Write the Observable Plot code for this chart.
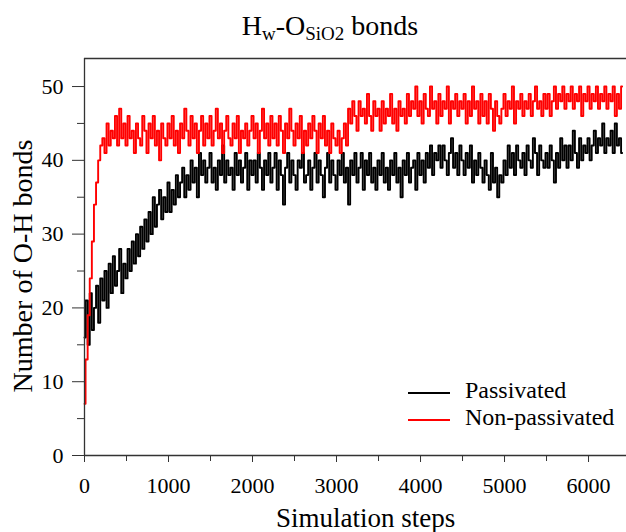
<!DOCTYPE html>
<html>
<head>
<meta charset="utf-8">
<script src="https://cdn.jsdelivr.net/npm/d3@7"></script>
<script src="https://cdn.jsdelivr.net/npm/@observablehq/plot@0.6"></script>
<style>
  html, body { margin: 0; padding: 0; background: #fff; }
  #wrap { position: relative; width: 626px; height: 532px; font-family: "Liberation Serif", "Times New Roman", serif; color: #000; }
  #title { position: absolute; left: 0; width: 660px; top: 12px; text-align: center; font-size: 28px; line-height: 1; }
  #title sub { font-size: 19px; vertical-align: -5px; line-height: 0; }
  .leg { position: absolute; left: 408px; width: 610px; font-size: 24px; line-height: 1; }
  .leg span.sw { position: absolute; left: 0; width: 42px; height: 0; }
  .leg span.tx { position: absolute; left: 57px; white-space: nowrap; }
</style>
</head>
<body>
<div id="wrap">
  <div id="title">H<sub>w</sub>-O<sub>SiO2</sub> bonds</div>
</div>
<script>
// ---- data ----
const stepInterval = 25; // one sample every 25 simulation steps, 0..6400
const seriesNames = ["Passivated", "Non-passivated"];
const seriesColors = ["black", "red"];
const passivatedValues = [
  16, 21, 15, 22, 17, 20, 23, 18, 24, 21,
  25, 20, 26, 22, 27, 23, 25, 28, 22, 26,
  24, 28, 25, 29, 26, 30, 27, 31, 28, 32,
  29, 33, 30, 35, 31, 34, 36, 32, 35, 33,
  37, 33, 36, 34, 38, 35, 37, 39, 35, 38,
  36, 40, 37, 39, 35, 41, 38, 40, 37, 39,
  41, 37, 39, 36, 40, 38, 42, 37, 40, 38,
  39, 36, 41, 38, 40, 37, 39, 41, 36, 40,
  38, 40, 37, 41, 39, 36, 40, 38, 41, 37,
  39, 41, 36, 40, 38, 34, 39, 41, 37, 40,
  38, 36, 40, 39, 41, 37, 38, 40, 36, 39,
  41, 37, 40, 38, 35, 39, 41, 37, 40, 38,
  36, 40, 38, 41, 37, 39, 34, 40, 38, 41,
  37, 39, 41, 36, 40, 38, 41, 37, 39, 36,
  40, 38, 41, 37, 39, 36, 40, 38, 41, 37,
  39, 35, 40, 38, 41, 37, 39, 40, 36, 41,
  38, 40, 37, 41, 39, 42, 38, 41, 40, 42,
  39, 42, 40, 38, 41, 43, 39, 41, 38, 42,
  40, 38, 41, 39, 42, 37, 40, 38, 41, 39,
  37, 40, 38, 36, 41, 37, 39, 35, 38, 37,
  40, 38, 42, 39, 41, 38, 42, 40, 39, 41,
  38, 42, 40, 39, 43, 41, 38, 42, 40, 39,
  41, 39, 42, 40, 37, 41, 39, 43, 40, 42,
  39, 42, 40, 44, 41, 39, 43, 40, 42, 41,
  43, 40, 42, 44, 41, 43, 42, 45, 41, 43,
  42, 44, 41, 45, 42, 43, 41
];
const nonPassivatedValues = [
  7, 13, 19, 24, 29, 34, 37, 40, 42, 43,
  41, 45, 42, 44, 43, 46, 42, 47, 43, 45,
  42, 46, 43, 44, 41, 45, 43, 42, 46, 44,
  41, 45, 43, 46, 42, 44, 40, 45, 43, 42,
  45, 43, 46, 42, 44, 41, 45, 43, 47, 44,
  42, 46, 43, 45, 41, 44, 46, 42, 45, 43,
  46, 42, 44, 47, 43, 45, 41, 44, 46, 43,
  42, 45, 43, 46, 41, 44, 43, 45, 42, 44,
  46, 43, 45, 41, 44, 47, 43, 45, 42, 46,
  43, 45, 42, 46, 44, 41, 45, 43, 47, 44,
  42, 45, 43, 46, 41, 44, 42, 45, 43, 46,
  44, 41, 45, 43, 46, 42, 44, 41, 45, 43,
  42, 44, 41, 43, 45, 42, 47, 45, 48, 46,
  44, 48, 46, 47, 45, 49, 46, 44, 48, 46,
  47, 44, 48, 45, 47, 46, 49, 45, 47, 44,
  48, 46, 47, 45, 49, 46, 48, 47, 50, 46,
  48, 45, 49, 47, 46, 50, 47, 48, 45, 49,
  46, 48, 47, 50, 45, 48, 47, 49, 46, 48,
  47, 49, 45, 48, 46, 50, 47, 48, 45, 49,
  46, 48, 45, 49, 47, 44, 48, 46, 45, 47,
  49, 46, 48, 47, 50, 45, 48, 47, 49, 46,
  48, 47, 49, 46, 48, 50, 47, 48, 46, 49,
  47, 49, 46, 48, 50, 47, 49, 48, 50, 47,
  49, 48, 50, 47, 49, 48, 50, 46, 49, 48,
  50, 47, 49, 48, 50, 47, 49, 48, 50, 47,
  49, 48, 50, 46, 49, 47, 50
];
const xTickValues = [0, 1000, 2000, 3000, 4000, 5000, 6000];
const xMinorTickValues = [500, 1500, 2500, 3500, 4500, 5500];
const yTickValues = [0, 10, 20, 30, 40, 50];
const yMinorTickValues = [5, 15, 25, 35, 45];
const xLabel = "Simulation steps";
const yLabel = "Number of O-H bonds";

// ---- build table ----
const toRows = (vals, name) => vals.map((v, i) => ({ step: i * stepInterval, value: v, series: name }));
const passivated = toRows(passivatedValues, seriesNames[0]);
const nonPassivated = toRows(nonPassivatedValues, seriesNames[1]);

const yMax = 53.8;
const chart = Plot.plot({
  width: 626,
  height: 532,
  marginTop: 58,
  marginBottom: 77,
  marginLeft: 84,
  marginRight: 0,
  style: { fontFamily: '"Liberation Serif", "Times New Roman", serif', fontSize: "22px", color: "black", background: "white", overflow: "visible" },
  x: { domain: [0, 6452] },
  y: { domain: [0, yMax] },
  marks: [
    Plot.lineY(passivated, { x: "step", y: "value", stroke: seriesColors[0], strokeWidth: 1.9, curve: "step" }),
    Plot.lineY(nonPassivated, { x: "step", y: "value", stroke: seriesColors[1], strokeWidth: 1.9, curve: "step" }),
    Plot.ruleY([0], { stroke: "#333", strokeWidth: 1.3 }),
    Plot.ruleY([yMax], { stroke: "#333", strokeWidth: 1.3 }),
    Plot.ruleX([0], { stroke: "#333", strokeWidth: 1.3 }),
    Plot.axisX({ ticks: xTickValues, tickSize: 7, tickPadding: 15, tickFormat: d => String(d), label: null, stroke: "#333" }),
    Plot.axisX({ ticks: xMinorTickValues, tickSize: 6, text: null, label: null, stroke: "#333" }),
    Plot.axisY({ ticks: yTickValues, tickSize: 12, tickPadding: 9, label: null, stroke: "#333" }),
    Plot.axisY({ ticks: yMinorTickValues, tickSize: 7, text: null, label: null, stroke: "#333" }),
    Plot.text([xLabel], { frameAnchor: "bottom", dx: 10, dy: 71, fontSize: 27, lineAnchor: "bottom" }),
    Plot.text([yLabel], { frameAnchor: "left", dx: -72, dy: 9, fontSize: 28, rotate: -90, lineAnchor: "top", textAnchor: "middle" })
  ]
});
const wrap = document.getElementById("wrap");
wrap.insertBefore(chart, wrap.firstChild);

// legend
const legendTops = [378, 405];
seriesNames.forEach((name, i) => {
  const row = document.createElement("div");
  row.className = "leg";
  row.style.top = legendTops[i] + "px";
  row.innerHTML = `<span class="sw" style="top:14px;border-top:2px solid ${seriesColors[i]}"></span><span class="tx">${name}</span>`;
  wrap.appendChild(row);
});
</script>
</body>
</html>
